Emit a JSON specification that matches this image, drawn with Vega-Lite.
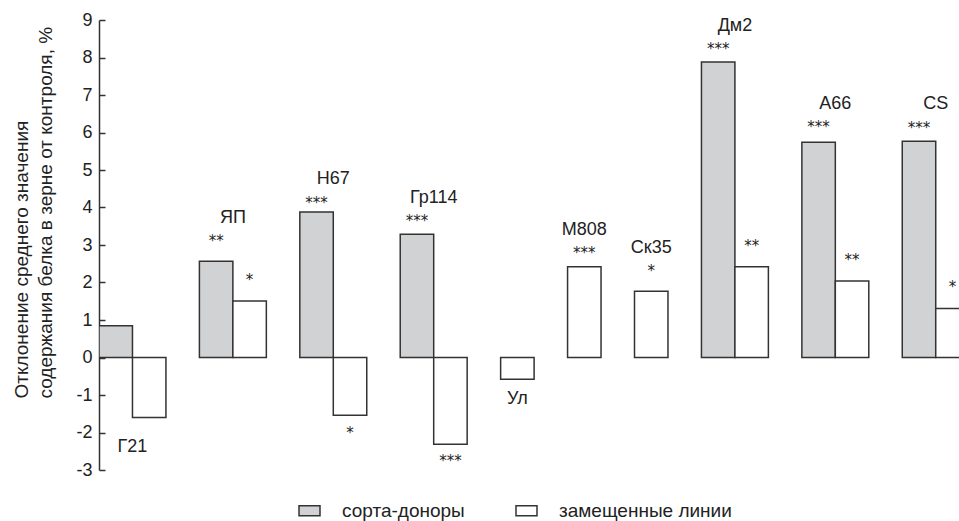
{
  "$schema": "https://vega.github.io/schema/vega-lite/v6.json",
  "width": 860,
  "height": 450,
  "autosize": {"type": "none"},
  "padding": {"left": 99, "top": 20, "right": 0, "bottom": 51},
  "background": "white",
  "config": {
    "view": {"stroke": null},
    "font": "Liberation Sans",
    "axisY": {
      "values": [-3, -2, -1, 0, 1, 2, 3, 4, 5, 6, 7, 8, 9],
      "labelExpr": "datum.value < 0 ? '-' + abs(datum.value) : '' + datum.value",
      "labelOverlap": false,
      "grid": false,
      "tickSize": -6,
      "labelPadding": 13,
      "domainColor": "#333333",
      "tickColor": "#333333",
      "domainWidth": 1.5,
      "tickWidth": 1.5,
      "labelFontSize": 18,
      "labelColor": "#222222",
      "labelFont": "Liberation Sans",
      "titleFont": "Liberation Sans",
      "titleFontSize": 19,
      "titleFontWeight": "normal",
      "titleColor": "#222222",
      "titleAngle": -90,
      "titleAlign": "left",
      "titleBaseline": "top",
      "titleX": -87,
      "titleY": 378,
      "titleLineHeight": 24
    }
  },
  "datasets": {
    "bars": [
      {"line": "Г21", "type": "сорта-доноры", "slot": "Г21-д", "value": 0.85},
      {"line": "Г21", "type": "замещенные линии", "slot": "Г21-з", "value": -1.6},
      {"line": "ЯП", "type": "сорта-доноры", "slot": "ЯП-д", "value": 2.57},
      {"line": "ЯП", "type": "замещенные линии", "slot": "ЯП-з", "value": 1.51},
      {"line": "Н67", "type": "сорта-доноры", "slot": "Н67-д", "value": 3.88},
      {"line": "Н67", "type": "замещенные линии", "slot": "Н67-з", "value": -1.54},
      {"line": "Гр114", "type": "сорта-доноры", "slot": "Гр114-д", "value": 3.29},
      {"line": "Гр114", "type": "замещенные линии", "slot": "Гр114-з", "value": -2.31},
      {"line": "Ул", "type": "замещенные линии", "slot": "Ул-з", "value": -0.58},
      {"line": "М808", "type": "замещенные линии", "slot": "М808-з", "value": 2.42},
      {"line": "Ск35", "type": "замещенные линии", "slot": "Ск35-з", "value": 1.77},
      {"line": "Дм2", "type": "сорта-доноры", "slot": "Дм2-д", "value": 7.88},
      {"line": "Дм2", "type": "замещенные линии", "slot": "Дм2-з", "value": 2.42},
      {"line": "А66", "type": "сорта-доноры", "slot": "А66-д", "value": 5.74},
      {"line": "А66", "type": "замещенные линии", "slot": "А66-з", "value": 2.04},
      {"line": "CS", "type": "сорта-доноры", "slot": "CS-д", "value": 5.77},
      {"line": "CS", "type": "замещенные линии", "slot": "CS-з", "value": 1.31}
    ],
    "labels": [
      {"text": "Г21", "kind": "group", "slot": "Г21-з", "y": -2.39},
      {"text": "ЯП", "kind": "group", "slot": "ЯП-з", "y": 3.71},
      {"text": "Н67", "kind": "group", "slot": "Н67-з", "y": 4.75},
      {"text": "Гр114", "kind": "group", "slot": "Гр114-з", "y": 4.26},
      {"text": "Дм2", "kind": "group", "slot": "Дм2-з", "y": 8.84},
      {"text": "А66", "kind": "group", "slot": "А66-з", "y": 6.75},
      {"text": "CS", "kind": "group", "slot": "CS-з", "y": 6.75},
      {"text": "Ул", "kind": "single", "slot": "Ул-з", "y": -1.11},
      {"text": "М808", "kind": "single", "slot": "М808-з", "y": 3.4},
      {"text": "Ск35", "kind": "single", "slot": "Ск35-з", "y": 2.93},
      {"text": "**", "kind": "sig", "slot": "ЯП-д", "y": 3.22},
      {"text": "*", "kind": "sig", "slot": "ЯП-з", "y": 2.17},
      {"text": "***", "kind": "sig", "slot": "Н67-д", "y": 4.23},
      {"text": "*", "kind": "sig", "slot": "Н67-з", "y": -1.91},
      {"text": "***", "kind": "sig", "slot": "Гр114-д", "y": 3.75},
      {"text": "***", "kind": "sig", "slot": "Гр114-з", "y": -2.65},
      {"text": "***", "kind": "sig", "slot": "М808-з", "y": 2.89},
      {"text": "*", "kind": "sig", "slot": "Ск35-з", "y": 2.42},
      {"text": "***", "kind": "sig", "slot": "Дм2-д", "y": 8.33},
      {"text": "**", "kind": "sig", "slot": "Дм2-з", "y": 3.09},
      {"text": "***", "kind": "sig", "slot": "А66-д", "y": 6.25},
      {"text": "**", "kind": "sig", "slot": "А66-з", "y": 2.71},
      {"text": "***", "kind": "sig", "slot": "CS-д", "y": 6.22},
      {"text": "*", "kind": "sig", "slot": "CS-з", "y": 1.98}
    ]
  },
  "layer": [
    {
      "data": {"name": "bars"},
      "mark": {"type": "bar", "clip": true, "stroke": "#333333", "strokeWidth": 1.5},
      "encoding": {
        "x": {
          "field": "slot",
          "type": "nominal",
          "scale": {
            "domain": ["Г21-д", "Г21-з", "s2", "ЯП-д", "ЯП-з", "s5", "Н67-д", "Н67-з", "s8", "Гр114-д", "Гр114-з", "s11", "Ул-з", "s13", "М808-з", "s15", "Ск35-з", "s17", "Дм2-д", "Дм2-з", "s20", "А66-д", "А66-з", "s23", "CS-д", "CS-з"],
            "range": [0, 870.2],
            "paddingInner": 0,
            "paddingOuter": 0
          },
          "axis": null
        },
        "y": {
          "field": "value",
          "type": "quantitative",
          "scale": {"domain": [-3, 9], "nice": false, "zero": false},
          "title": ["Отклонение среднего значения", "содержания белка в зерне от контроля, %"]
        },
        "fill": {
          "field": "type",
          "type": "nominal",
          "scale": {"domain": ["сорта-доноры", "замещенные линии"], "range": ["#d1d2d4", "#ffffff"]},
          "legend": {
            "orient": "none",
            "legendX": 199,
            "legendY": 479,
            "direction": "horizontal",
            "title": null,
            "symbolType": "M-1,-0.48H1V0.48H-1Z",
            "symbolSize": 441,
            "symbolStrokeColor": "#333333",
            "symbolStrokeWidth": 1.5,
            "labelFontSize": 19,
            "labelFont": "Liberation Sans",
            "labelColor": "#222222",
            "labelOffset": 21,
            "labelLimit": 400,
            "columnPadding": 48
          }
        }
      }
    },
    {
      "mark": {"type": "rule", "color": "#333333", "strokeWidth": 1.5},
      "encoding": {"y": {"datum": 0}}
    },
    {
      "data": {"name": "labels"},
      "transform": [{"filter": "datum.kind === 'group'"}],
      "mark": {"type": "text", "font": "Liberation Sans", "fontSize": 18, "color": "#222222", "baseline": "middle", "align": "center"},
      "encoding": {
        "x": {"field": "slot", "type": "nominal", "bandPosition": 0},
        "y": {"field": "y", "type": "quantitative"},
        "text": {"field": "text"}
      }
    },
    {
      "data": {"name": "labels"},
      "transform": [{"filter": "datum.kind === 'single'"}],
      "mark": {"type": "text", "font": "Liberation Sans", "fontSize": 18, "color": "#222222", "baseline": "middle", "align": "center"},
      "encoding": {
        "x": {"field": "slot", "type": "nominal", "bandPosition": 0.5},
        "y": {"field": "y", "type": "quantitative"},
        "text": {"field": "text"}
      }
    },
    {
      "data": {"name": "labels"},
      "transform": [{"filter": "datum.kind === 'sig'"}],
      "mark": {"type": "text", "font": "DejaVu Sans", "fontSize": 15, "color": "#222222", "baseline": "middle", "align": "center", "dy": 4},
      "encoding": {
        "x": {"field": "slot", "type": "nominal", "bandPosition": 0.5},
        "y": {"field": "y", "type": "quantitative"},
        "text": {"field": "text"}
      }
    }
  ]
}
